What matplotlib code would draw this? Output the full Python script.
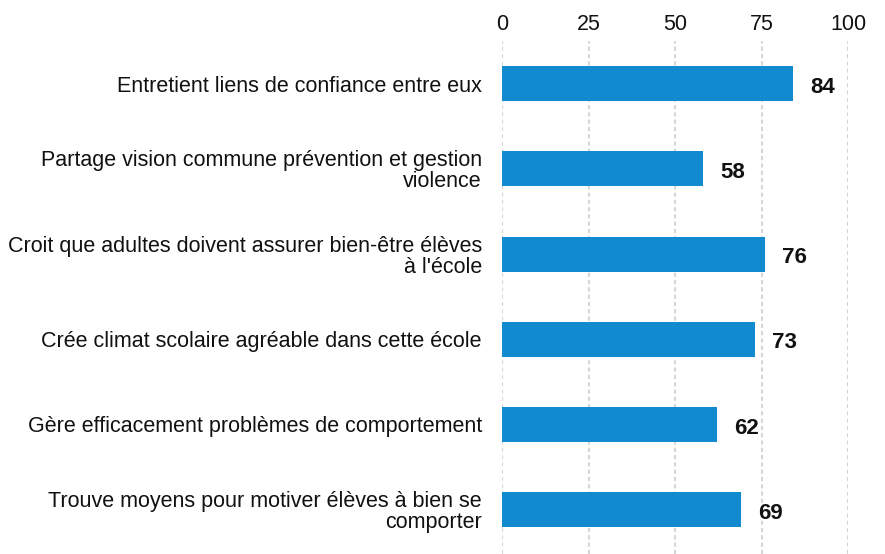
import matplotlib
matplotlib.use("Agg")
import matplotlib.pyplot as plt

plt.rcParams['font.family'] = ['Liberation Sans', 'DejaVu Sans']

categories = [
    "Entretient liens de confiance entre eux",
    "Partage vision commune prévention et gestion\nviolence",
    "Croit que adultes doivent assurer bien-être élèves\nà l'école",
    "Crée climat scolaire agréable dans cette école",
    "Gère efficacement problèmes de comportement",
    "Trouve moyens pour motiver élèves à bien se\ncomporter",
]
values = [84, 58, 76, 73, 62, 69]
ticks = [0, 25, 50, 75, 100]

fig = plt.figure(figsize=(8.85, 5.54), dpi=100)
ax = fig.add_axes([502 / 885, 0.0, 346 / 885, (554 - 41) / 554])

y = list(range(len(categories)))
ax.barh(y, values, height=0.41, color="#118ACF", zorder=3)
ax.set_ylim(len(categories) - 0.5 + 0.02, -0.5)
ax.set_xlim(0, 100)

for yi, v in zip(y, values):
    ax.annotate(str(v), xy=(v, yi), xytext=(12.5, -0.8), textcoords="offset points",
                ha="left", va="center_baseline", fontsize=16, fontweight="bold",
                color="#111111")

ax.set_yticks(y)
ax.set_yticklabels(categories, fontsize=15.5, linespacing=1.0, color="#111111")
ax.tick_params(axis="y", length=0, pad=14.5)

ax.set_xticks(ticks)
ax.xaxis.tick_top()
ax.tick_params(axis="x", length=0, pad=4, labelsize=15.5, labelcolor="#111111")

ax.grid(axis="x", color="#d6d6d6", linestyle=(0, (2, 1.5)), linewidth=1.5, zorder=0)
ax.grid(axis="y", visible=False)
for s in ax.spines.values():
    s.set_visible(False)

fig.savefig("out.png", dpi=100)
